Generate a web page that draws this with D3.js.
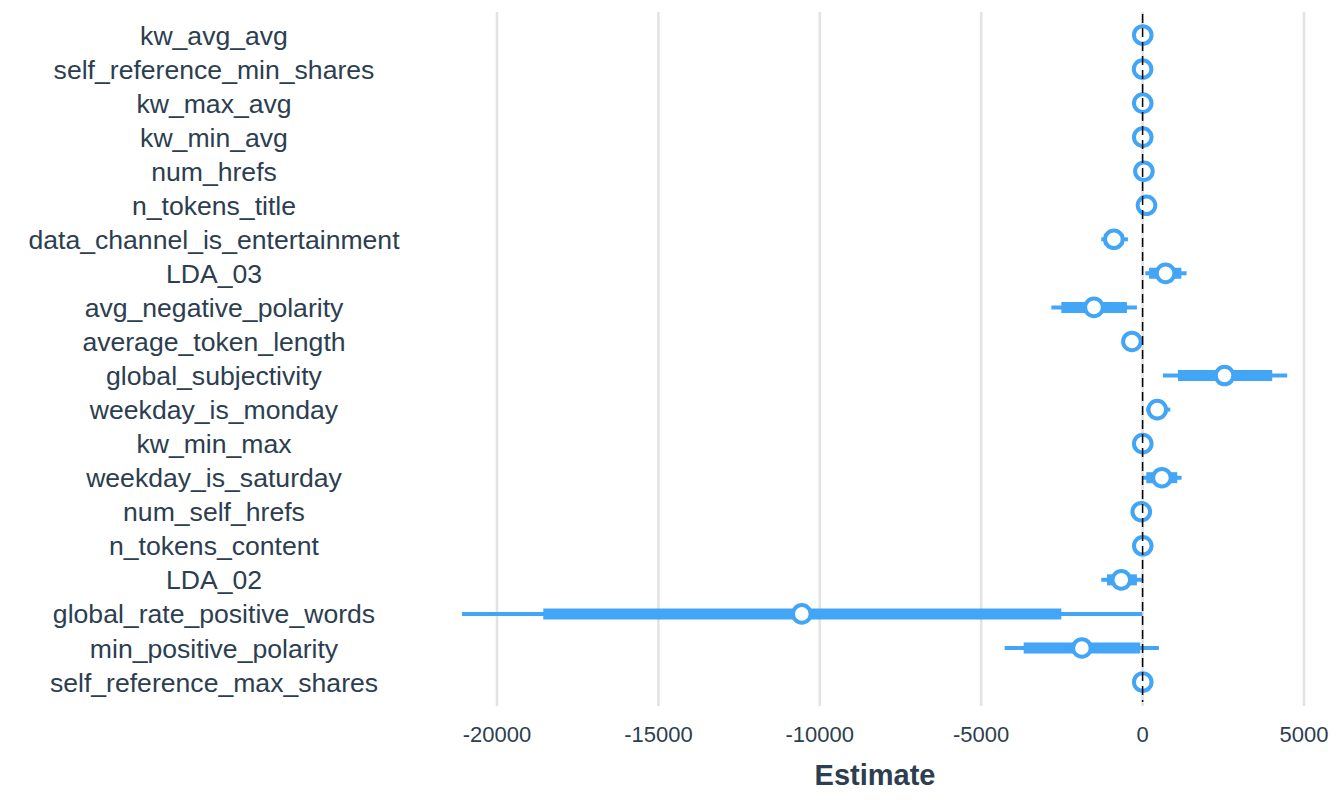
<!DOCTYPE html>
<html>
<head>
<meta charset="utf-8">
<script src="https://cdn.jsdelivr.net/npm/d3@7"></script>
<style>
  body { margin: 0; background: #fff; }
  text { font-family: "Liberation Sans", Arial, Helvetica, sans-serif; }
</style>
</head>
<body>
<script>
var terms = ["kw_avg_avg", "self_reference_min_shares", "kw_max_avg", "kw_min_avg",
  "num_hrefs", "n_tokens_title", "data_channel_is_entertainment", "LDA_03",
  "avg_negative_polarity", "average_token_length", "global_subjectivity",
  "weekday_is_monday", "kw_min_max", "weekday_is_saturday", "num_self_hrefs",
  "n_tokens_content", "LDA_02", "global_rate_positive_words",
  "min_positive_polarity", "self_reference_max_shares"];

var estimate = [5, 0, 5, 5, 40, 120, -890, 712, -1507, -331, 2539, 454, 5, 598, -41, 5, -660, -10557, -1880, 5];
var innerLo  = [5, 0, 5, 5, 40, 120, -1200, 200, -2517, -331, 1094, 217, 5, 114, -41, 5, -1105, -18567, -3684, 5];
var innerHi  = [5, 0, 5, 5, 40, 120, -580, 1200, -486, -331, 4015, 733, 5, 1073, -41, 5, -176, -2517, -72, 5];
var outerLo  = [5, 0, 5, 5, 40, 120, -1280, 83, -2827, -331, 629, 114, 5, -10, -41, 5, -1280, -21084, -4272, 5];
var outerHi  = [5, 0, 5, 5, 40, 120, -455, 1362, -176, -331, 4480, 857, 5, 1207, -41, 5, -10, -10, 505, 5];

var xTicks = [-20000, -15000, -10000, -5000, 0, 5000];

var width = 1344, height = 806;
var blue = "#42a5f5";
var ink = "#2c3e50";

var svg = d3.select("body").append("svg")
  .attr("width", width)
  .attr("height", height);

var x = d3.scaleLinear().domain([-20000, 5000]).range([497, 1304]);
var y = d3.scalePoint().domain(terms).range([35, 682]);

// grid
svg.selectAll(".grid").data(xTicks).enter().append("line")
  .attr("x1", function(d) { return x(d); })
  .attr("x2", function(d) { return x(d); })
  .attr("y1", 12)
  .attr("y2", 706)
  .attr("stroke", "#e3e3e3")
  .attr("stroke-width", 2.6);

var rows = terms.map(function(t, i) {
  return {term: t, est: estimate[i], ilo: innerLo[i], ihi: innerHi[i], olo: outerLo[i], ohi: outerHi[i]};
});

// outer interval
svg.selectAll(".outer").data(rows).enter().append("line")
  .attr("x1", function(d) { return x(d.olo); })
  .attr("x2", function(d) { return x(d.ohi); })
  .attr("y1", function(d) { return y(d.term); })
  .attr("y2", function(d) { return y(d.term); })
  .attr("stroke", blue)
  .attr("stroke-width", 4);

// inner interval
svg.selectAll(".inner").data(rows).enter().append("line")
  .attr("x1", function(d) { return x(d.ilo); })
  .attr("x2", function(d) { return x(d.ihi); })
  .attr("y1", function(d) { return y(d.term); })
  .attr("y2", function(d) { return y(d.term); })
  .attr("stroke", blue)
  .attr("stroke-width", 11);

// points
svg.selectAll(".pt").data(rows).enter().append("circle")
  .attr("cx", function(d) { return x(d.est); })
  .attr("cy", function(d) { return y(d.term); })
  .attr("r", 8.8)
  .attr("fill", "white")
  .attr("stroke", blue)
  .attr("stroke-width", 4);

// zero reference
svg.append("line")
  .attr("x1", x(0)).attr("x2", x(0))
  .attr("y1", 14).attr("y2", 702)
  .attr("stroke", "black")
  .attr("stroke-width", 1.5)
  .attr("stroke-dasharray", "9,5");

// row labels
svg.selectAll(".lab").data(terms).enter().append("text")
  .attr("x", 214)
  .attr("y", function(d) { return y(d); })
  .attr("dy", "0.36em")
  .attr("text-anchor", "middle")
  .attr("font-size", 26.6)
  .attr("fill", ink)
  .text(function(d) { return d; });

// x axis labels
svg.selectAll(".tick").data(xTicks).enter().append("text")
  .attr("x", function(d) { return x(d); })
  .attr("y", 742)
  .attr("text-anchor", "middle")
  .attr("font-size", 22)
  .attr("fill", ink)
  .text(function(d) { return d; });

svg.append("text")
  .attr("x", 875)
  .attr("y", 785)
  .attr("text-anchor", "middle")
  .attr("font-size", 29)
  .attr("font-weight", "bold")
  .attr("fill", ink)
  .text("Estimate");
</script>
</body>
</html>
